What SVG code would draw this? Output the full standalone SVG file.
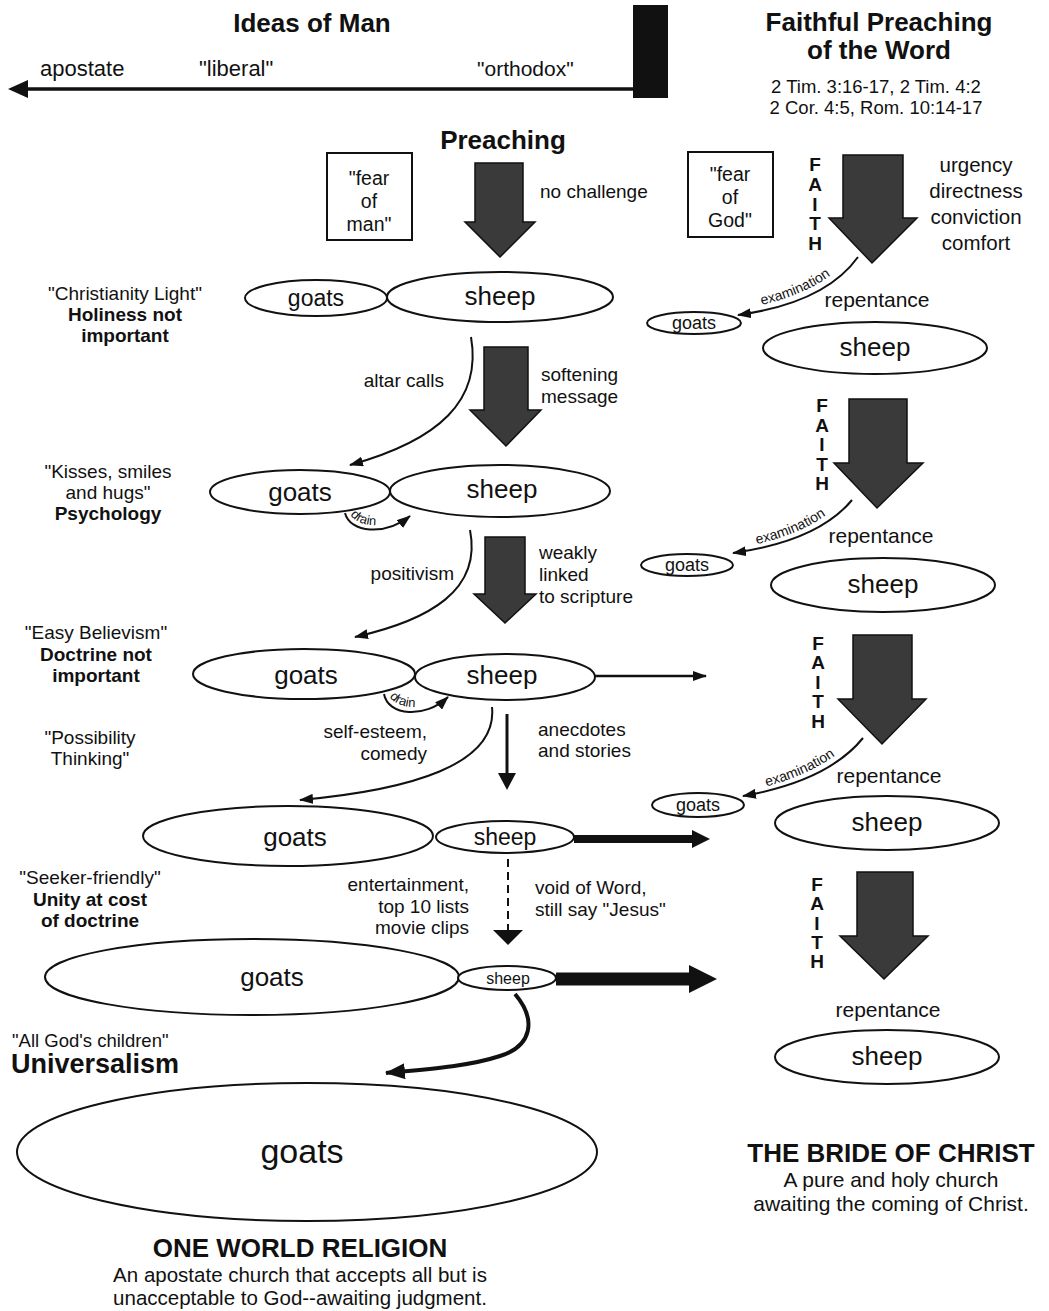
<svg xmlns="http://www.w3.org/2000/svg" width="1049" height="1311" viewBox="0 0 1049 1311">
<style>
text { font-family: "Liberation Sans", Arial, sans-serif; fill: #111; }
.b { font-weight: bold; }
.m { text-anchor: middle; }
.r { text-anchor: end; }
.e { fill: #fff; stroke: #111; stroke-width: 2; }
.big { fill: #3a3a3a; stroke: #111; stroke-width: 1.5; }
.ln { fill: none; stroke: #111; stroke-width: 2; }
.box { fill: none; stroke: #111; stroke-width: 2; }
.s13 { font-size: 13px; }
.s19 { font-size: 19px; }
.s21 { font-size: 21px; }
.fb { font-size: 19.5px; text-anchor: middle; }
.faith { font-size: 19px; font-weight: bold; text-anchor: middle; }
</style>
<defs>
<marker id="ah" viewBox="0 0 14 10" refX="13" refY="5" markerWidth="14" markerHeight="10" markerUnits="userSpaceOnUse" orient="auto">
<path d="M0,0 L14,5 L0,10 z" fill="#111"/>
</marker>
<marker id="ahB" viewBox="0 0 20 16" refX="19" refY="8" markerWidth="20" markerHeight="16" markerUnits="userSpaceOnUse" orient="auto">
<path d="M0,0 L20,8 L0,16 z" fill="#111"/>
</marker>
<path id="ex1" d="M742,309 Q818,296 853,255"/>
<path id="ex2" d="M737,548 Q811,536 847,497"/>
<path id="ex3" d="M747,791 Q821,776 858,735"/>
<path id="dr2" d="M349,512 C355,527 384,531 406,515"/>
<path id="dr3" d="M388,694 C394,709 425,713 445,696"/>
</defs>

<g id="header">
<text x="312" y="32" font-size="26" class="b m">Ideas of Man</text>
<text x="40" y="76" font-size="22">apostate</text>
<text x="199" y="76" font-size="22">"liberal"</text>
<text x="477" y="76" font-size="21">"orthodox"</text>
<rect x="633" y="5" width="35" height="93" fill="#111"/>
<text x="879" y="31" font-size="26" class="b m">Faithful Preaching</text>
<text x="879" y="59" font-size="26" class="b m">of the Word</text>
<text x="876" y="93" font-size="18.5" class="m">2 Tim. 3:16-17, 2 Tim. 4:2</text>
<text x="876" y="114" font-size="18.5" class="m">2 Cor. 4:5, Rom. 10:14-17</text>
<text x="503" y="149" font-size="26" class="b m">Preaching</text>
</g>

<g id="fear-man">
<rect x="327" y="153" width="85" height="87" class="box"/>
<text x="369" y="185" class="fb">"fear</text>
<text x="369" y="208" class="fb">of</text>
<text x="369" y="231" class="fb">man"</text>
</g>
<g id="fear-god">
<rect x="688" y="152" width="85" height="85" class="box"/>
<text x="730" y="181" class="fb">"fear</text>
<text x="730" y="204" class="fb">of</text>
<text x="730" y="227" class="fb">God"</text>
</g>

<g id="left-labels">
<text x="125" y="300" class="s19 m">"Christianity Light"</text>
<text x="125" y="321" class="s19 b m">Holiness not</text>
<text x="125" y="342" class="s19 b m">important</text>
<text x="108" y="478" class="s19 m">"Kisses, smiles</text>
<text x="108" y="499" class="s19 m">and hugs"</text>
<text x="108" y="520" class="s19 b m">Psychology</text>
<text x="96" y="639" class="s19 m">"Easy Believism"</text>
<text x="96" y="661" class="s19 b m">Doctrine not</text>
<text x="96" y="682" class="s19 b m">important</text>
<text x="90" y="744" class="s19 m">"Possibility</text>
<text x="90" y="765" class="s19 m">Thinking"</text>
<text x="90" y="884" class="s19 m">"Seeker-friendly"</text>
<text x="90" y="906" class="s19 b m">Unity at cost</text>
<text x="90" y="927" class="s19 b m">of doctrine</text>
<text x="12" y="1047" font-size="18.5">"All God's children"</text>
<text x="11" y="1073" font-size="27" class="b">Universalism</text>
</g>

<g id="left-arrows">
<polygon class="big" points="475,163 523,163 523,222 535,222 500,257 465,222 475,222"/>
<polygon class="big" points="484,347 528,347 528,410 541,410 506,446 470,410 484,410"/>
<polygon class="big" points="485,537 525,537 525,594 536,594 505,623 474,594 485,594"/>
<text x="540" y="198" class="s19">no challenge</text>
<text x="541" y="381" class="s19">softening</text>
<text x="541" y="403" class="s19">message</text>
<text x="539" y="559" class="s19">weakly</text>
<text x="539" y="581" class="s19">linked</text>
<text x="539" y="603" class="s19">to scripture</text>
<text x="538" y="736" class="s19">anecdotes</text>
<text x="538" y="757" class="s19">and stories</text>
<text x="535" y="894" class="s19">void of Word,</text>
<text x="535" y="916" class="s19">still say "Jesus"</text>
<text x="444" y="387" class="s19 r">altar calls</text>
<text x="454" y="580" class="s19 r">positivism</text>
<text x="427" y="738" class="s19 r">self-esteem,</text>
<text x="427" y="760" class="s19 r">comedy</text>
<text x="469" y="891" class="s19 r">entertainment,</text>
<text x="469" y="913" class="s19 r">top 10 lists</text>
<text x="469" y="934" class="s19 r">movie clips</text>
</g>

<g id="row1">
<ellipse cx="316" cy="298" rx="71" ry="18" class="e"/>
<ellipse cx="500" cy="297" rx="113" ry="25" class="e"/>
<text x="316" y="306" font-size="23" class="m">goats</text>
<text x="500" y="305" font-size="26" class="m">sheep</text>
</g>
<g id="row2">
<ellipse cx="300" cy="492" rx="90" ry="22" class="e"/>
<ellipse cx="500" cy="491" rx="110" ry="26" class="e"/>
<text x="300" y="501" font-size="26" class="m">goats</text>
<text x="502" y="498" font-size="26" class="m">sheep</text>
</g>
<g id="row3">
<ellipse cx="304" cy="674" rx="111" ry="25" class="e"/>
<ellipse cx="505" cy="677" rx="90" ry="23" class="e"/>
<text x="306" y="684" font-size="26" class="m">goats</text>
<text x="502" y="684" font-size="26" class="m">sheep</text>
</g>
<g id="row4">
<ellipse cx="288" cy="836" rx="145" ry="30" class="e"/>
<ellipse cx="505" cy="837" rx="69" ry="16" class="e"/>
<text x="295" y="846" font-size="26" class="m">goats</text>
<text x="505" y="845" font-size="23" class="m">sheep</text>
</g>
<g id="row5">
<ellipse cx="252" cy="977" rx="207" ry="38" class="e"/>
<ellipse cx="507" cy="978" rx="49" ry="12" class="e"/>
<text x="272" y="986" font-size="26" class="m">goats</text>
<text x="508" y="984" font-size="16" class="m">sheep</text>
</g>
<g id="world">
<ellipse cx="307" cy="1152" rx="290" ry="69" class="e"/>
<text x="302" y="1163" font-size="34" class="m">goats</text>
<text x="300" y="1257" font-size="26" class="b m">ONE WORLD RELIGION</text>
<text x="300" y="1282" font-size="20.5" class="m">An apostate church that accepts all but is</text>
<text x="300" y="1305" font-size="20.5" class="m">unacceptable to God--awaiting judgment.</text>
</g>

<g id="right-col">
<text x="976" y="172" font-size="20.5" class="m">urgency</text>
<text x="976" y="198" font-size="20.5" class="m">directness</text>
<text x="976" y="224" font-size="20.5" class="m">conviction</text>
<text x="976" y="250" font-size="20.5" class="m">comfort</text>
<g id="faith1">
<text x="815" y="171" class="faith">F</text><text x="815" y="191" class="faith">A</text><text x="815" y="211" class="faith">I</text><text x="815" y="230" class="faith">T</text><text x="815" y="250" class="faith">H</text>
<polygon class="big" points="843,155 903,155 903,218 917,218 872,263 829,218 843,218"/>
</g>
<g id="faith2">
<text x="822" y="412" class="faith">F</text><text x="822" y="432" class="faith">A</text><text x="822" y="451" class="faith">I</text><text x="822" y="471" class="faith">T</text><text x="822" y="490" class="faith">H</text>
<polygon class="big" points="849,399 907,399 907,463 923,463 877,508 834,463 849,463"/>
</g>
<g id="faith3">
<text x="818" y="650" class="faith">F</text><text x="818" y="669" class="faith">A</text><text x="818" y="689" class="faith">I</text><text x="818" y="708" class="faith">T</text><text x="818" y="728" class="faith">H</text>
<polygon class="big" points="853,635 912,635 912,699 926,699 882,744 838,699 853,699"/>
</g>
<g id="faith4">
<text x="817" y="891" class="faith">F</text><text x="817" y="910" class="faith">A</text><text x="817" y="930" class="faith">I</text><text x="817" y="949" class="faith">T</text><text x="817" y="968" class="faith">H</text>
<polygon class="big" points="857,872 913,872 913,936 928,936 884,979 840,936 857,936"/>
</g>
<g id="r1">
<ellipse cx="694" cy="323" rx="47" ry="11" class="e"/>
<text x="694" y="329" font-size="18" class="m">goats</text>
<text x="877" y="307" class="s21 m">repentance</text>
<ellipse cx="875" cy="348" rx="112" ry="26" class="e"/>
<text x="875" y="356" font-size="26" class="m">sheep</text>
</g>
<g id="r2">
<ellipse cx="687" cy="565" rx="46" ry="11" class="e"/>
<text x="687" y="571" font-size="18" class="m">goats</text>
<text x="881" y="543" class="s21 m">repentance</text>
<ellipse cx="883" cy="585" rx="112" ry="27" class="e"/>
<text x="883" y="593" font-size="26" class="m">sheep</text>
</g>
<g id="r3">
<ellipse cx="698" cy="805" rx="46" ry="12" class="e"/>
<text x="698" y="811" font-size="18" class="m">goats</text>
<text x="889" y="783" class="s21 m">repentance</text>
<ellipse cx="887" cy="823" rx="112" ry="27" class="e"/>
<text x="887" y="831" font-size="26" class="m">sheep</text>
</g>
<g id="r4">
<text x="888" y="1017" class="s21 m">repentance</text>
<ellipse cx="887" cy="1057" rx="112" ry="27" class="e"/>
<text x="887" y="1065" font-size="26" class="m">sheep</text>
</g>
<text x="891" y="1162" font-size="26" class="b m">THE BRIDE OF CHRIST</text>
<text x="891" y="1187" class="s21 m">A pure and holy church</text>
<text x="891" y="1211" class="s21 m">awaiting the coming of Christ.</text>
</g>

<g id="connectors">
<path d="M633,89 L26,89" stroke="#111" stroke-width="3.5" fill="none"/>
<polygon points="8,89 28,80 28,98" fill="#111"/>
<path class="ln" d="M471,337 C482,400 440,440 350,465" marker-end="url(#ah)"/>
<path class="ln" d="M470,530 C482,590 430,620 355,637" marker-end="url(#ah)"/>
<path class="ln" d="M492,707 C498,765 410,790 300,800" marker-end="url(#ah)"/>
<path class="ln" d="M345,513 C350,533 385,536 410,516" marker-end="url(#ah)"/>
<path class="ln" d="M384,694 C388,716 425,719 448,697" marker-end="url(#ah)"/>
<text class="s13"><textPath href="#dr2" startOffset="3">drain</textPath></text>
<text class="s13"><textPath href="#dr3" startOffset="3">drain</textPath></text>
<path class="ln" d="M858,257 Q825,303 738,315" marker-end="url(#ah)"/>
<path class="ln" d="M852,500 Q818,541 733,553" marker-end="url(#ah)"/>
<path class="ln" d="M863,738 Q828,781 743,796" marker-end="url(#ah)"/>
<text font-size="14"><textPath href="#ex1" startOffset="20">examination</textPath></text>
<text font-size="14"><textPath href="#ex2" startOffset="20">examination</textPath></text>
<text font-size="14"><textPath href="#ex3" startOffset="20">examination</textPath></text>
<path d="M595,676 L706,676" stroke="#111" stroke-width="2.5" fill="none" marker-end="url(#ah)"/>
<path d="M507,714 L507,775" stroke="#111" stroke-width="3" fill="none"/>
<polygon points="498,773 516,773 507,790" fill="#111"/>
<path d="M508,859 L508,930" stroke="#111" stroke-width="2" stroke-dasharray="8,5" fill="none"/>
<polygon points="493,930 523,930 508,945" fill="#111"/>
<path d="M574,839 L695,839" stroke="#111" stroke-width="8" fill="none"/>
<polygon points="692,830 710,839 692,848" fill="#111"/>
<path d="M556,979 L692,979" stroke="#111" stroke-width="13" fill="none"/>
<polygon points="689,965 717,979 689,993" fill="#111"/>
<path d="M515,994 C537,1020 532,1046 500,1056 C470,1066 430,1069 386,1073" fill="none" stroke="#111" stroke-width="4" marker-end="url(#ahB)"/>
</g>
</svg>
